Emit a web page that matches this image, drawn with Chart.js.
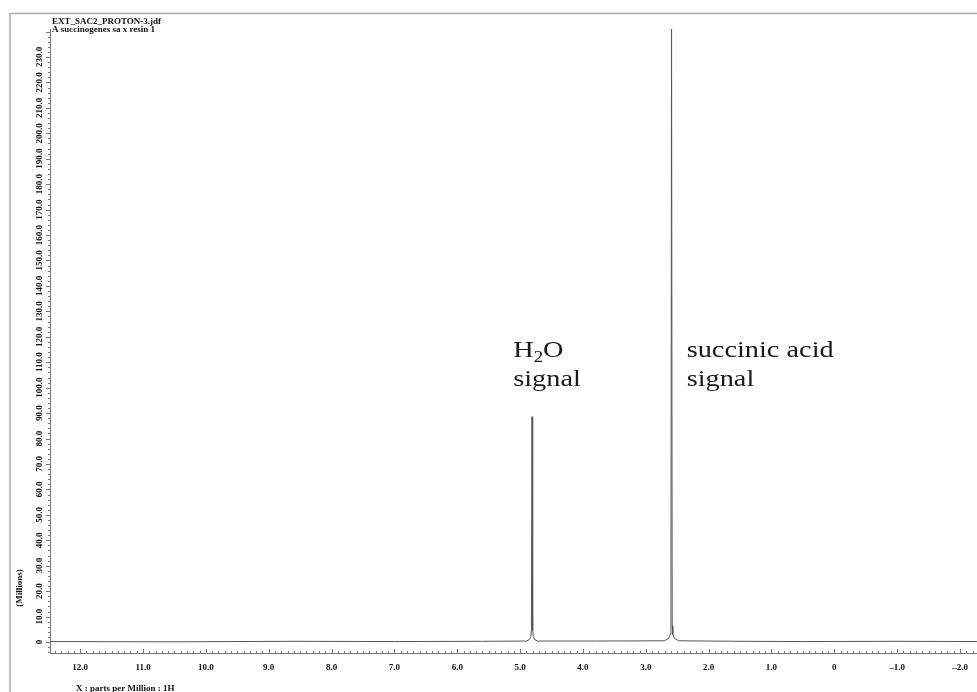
<!DOCTYPE html>
<html>
<head>
<meta charset="utf-8">
<script src="https://cdn.jsdelivr.net/npm/chart.js@4.4.1/dist/chart.umd.min.js"></script>
<style>
  body { margin: 0; background: #fff; }
  #wrap { width: 977px; height: 692px; }
</style>
</head>
<body>
<div id="wrap"><canvas id="nmr" width="977" height="692"></canvas></div>
<script>
// chemical shift (ppm) and intensity (millions)
const ppm = [12.48, 10.5, 8.6, 7.0, 5.6, 4.90, 4.85, 4.83, 4.82, 4.81, 4.80, 4.79, 4.77, 4.72,
             3.8, 2.70, 2.64, 2.61, 2.60, 2.59, 2.58, 2.57, 2.54, 2.48, 1.5, 0.5, -1.0, -2.27];
const intensity = [0.2, 0.1, 0.3, 0.2, 0.3, 0.4, 1.0, 2.2, 4.5, 88.6, 4.5, 2.2, 1.0, 0.4,
                   0.4, 0.5, 1.4, 3.0, 6.5, 241, 6.5, 3.0, 1.4, 0.5, 0.3, 0.2, 0.3, 0.2];

const xTicks = [12, 11, 10, 9, 8, 7, 6, 5, 4, 3, 2, 1, 0, -1, -2];
const yTicks = [0, 10, 20, 30, 40, 50, 60, 70, 80, 90, 100, 110, 120, 130, 140, 150,
                160, 170, 180, 190, 200, 210, 220, 230];

const titleLines = ["EXT_SAC2_PROTON-3.jdf", "A succinogenes sa x resin 1"];
const xTitle = "X : parts per Million : 1H";
const yTitle = "(Millions)";

const notes = [
  { ppm: 5.11, val: 112, lines: [[["H", 0], ["2", 1], ["O", 0]], [["signal", 0]]] },
  { ppm: 2.35, val: 112, lines: [[["succinic acid", 0]], [["signal", 0]]] }
];

const serif = "'Liberation Serif', 'Times New Roman', serif";

const decor = {
  id: "decor",
  beforeDraw(chart) {
    const ctx = chart.ctx;
    ctx.save();
    ctx.fillStyle = "#fff";
    ctx.fillRect(0, 0, chart.width, chart.height);
    // outer frame
    ctx.strokeStyle = "#aaa";
    ctx.lineWidth = 1.5;
    ctx.beginPath();
    ctx.moveTo(10, 692);
    ctx.lineTo(10, 13.5);
    ctx.lineTo(977, 13.5);
    ctx.stroke();
    ctx.restore();
  },
  afterDraw(chart) {
    const ctx = chart.ctx;
    const xs = chart.scales.x, ys = chart.scales.y;
    const area = chart.chartArea;
    ctx.save();

    // x minor ticks
    ctx.strokeStyle = "#777";
    ctx.lineWidth = 1;
    ctx.beginPath();
    for (let i = -22; i <= 124; i++) {
      const px = Math.round(xs.getPixelForValue(i / 10)) + 0.5;
      const len = i % 10 === 0 ? 4 : 2;
      ctx.moveTo(px, area.bottom);
      ctx.lineTo(px, area.bottom - len);
    }
    // y minor ticks
    for (let v = -4; v <= 240; v += 2) {
      const py = Math.round(ys.getPixelForValue(v)) + 0.5;
      const len = v % 10 === 0 ? 4 : 2;
      ctx.moveTo(area.left, py);
      ctx.lineTo(area.left - len, py);
    }
    ctx.stroke();

    // y tick labels, rotated
    ctx.fillStyle = "#111";
    ctx.font = "bold 9px " + serif;
    ctx.textAlign = "center";
    ctx.textBaseline = "middle";
    yTicks.forEach(v => {
      const py = ys.getPixelForValue(v);
      ctx.save();
      ctx.translate(40, py);
      ctx.rotate(-Math.PI / 2);
      ctx.fillText(v === 0 ? "0" : v.toFixed(1), 0, 0);
      ctx.restore();
    });
    ctx.save();
    ctx.translate(20, 588);
    ctx.rotate(-Math.PI / 2);
    ctx.fillText(yTitle, 0, 0);
    ctx.restore();

    // titles
    ctx.textAlign = "left";
    ctx.textBaseline = "alphabetic";
    ctx.fillText(titleLines[0], 52, 24);
    ctx.fillText(titleLines[1], 52, 32);
    ctx.fillText(xTitle, 76, 691);

    // peak annotations
    ctx.fillStyle = "#1a1a1a";
    notes.forEach(n => {
      const x0 = xs.getPixelForValue(n.ppm);
      const y0 = ys.getPixelForValue(n.val);
      n.lines.forEach((parts, li) => {
        ctx.save();
        ctx.translate(x0, y0 + li * 29);
        ctx.scale(1.18, 1);
        let cx = 0;
        parts.forEach(([txt, sub]) => {
          ctx.font = (sub ? "16px " : "24px ") + serif;
          ctx.fillText(txt, cx, sub ? 5 : 0);
          cx += ctx.measureText(txt).width;
        });
        ctx.restore();
      });
    });
    ctx.restore();
  }
};

new Chart(document.getElementById("nmr"), {
  type: "line",
  data: {
    datasets: [{
      data: ppm.map((x, i) => ({ x: x, y: intensity[i] })),
      borderColor: "#555",
      borderWidth: 1,
      pointRadius: 0,
      tension: 0
    }]
  },
  options: {
    responsive: false,
    animation: false,
    layout: { padding: { top: 29, left: 50, right: 0, bottom: 0 } },
    plugins: { legend: { display: false }, tooltip: { enabled: false } },
    scales: {
      x: {
        type: "linear",
        reverse: true,
        min: -2.27,
        max: 12.48,
        grid: { display: false, drawTicks: false },
        border: { display: true, color: "#777", width: 1 },
        ticks: {
          color: "#111",
          font: { family: serif, size: 9, weight: "bold" },
          padding: 9,
          maxRotation: 0,
          autoSkip: false,
          callback: v => v === 0 ? "0" : (v < 0 ? "\u2013" + Math.abs(v).toFixed(1) : v.toFixed(1))
        },
        afterBuildTicks: s => { s.ticks = xTicks.map(v => ({ value: v })); },
        afterFit: s => { s.height = 39; }
      },
      y: {
        min: -4.3,
        max: 241,
        grid: { display: false, drawTicks: false },
        border: { display: true, color: "#777", width: 1 },
        ticks: { display: false },
        afterFit: s => { s.width = 0; }
      }
    }
  },
  plugins: [decor]
});
</script>
</body>
</html>
